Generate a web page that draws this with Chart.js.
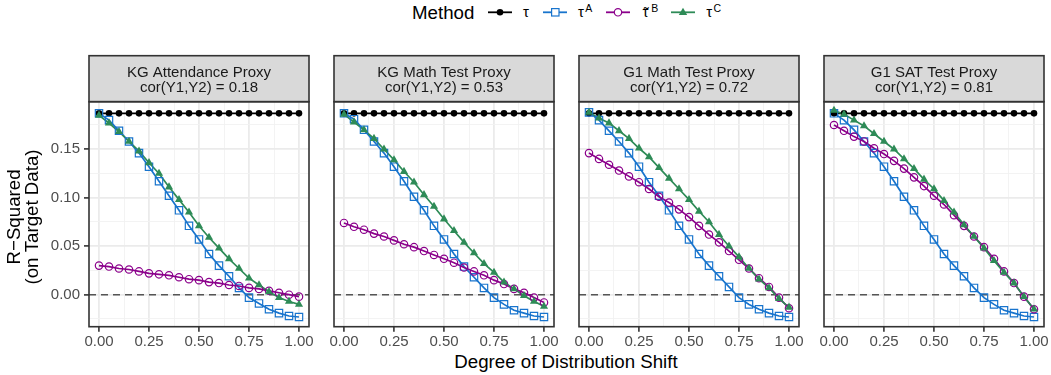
<!DOCTYPE html>
<html>
<head>
<meta charset="utf-8">
<script src="https://cdn.jsdelivr.net/npm/chart.js@4.4.1/dist/chart.umd.min.js"></script>
<style>
  body { margin: 0; background: #fff; width: 1051px; height: 375px; overflow: hidden; position: relative; }
  canvas { position: absolute; top: 0; }
  #overlay { position: absolute; left: 0; top: 0; pointer-events: none; font-family: "Liberation Sans", Arial, sans-serif; }
</style>
</head>
<body>

<svg id="overlay" width="1051" height="375">
  <!-- legend -->
  <text x="412" y="18.5" font-size="18.7" fill="#000">Method</text>
  <line x1="488" y1="12.3" x2="512" y2="12.3" stroke="#000" stroke-width="1.8"/>
  <circle cx="500" cy="12.3" r="3.3" fill="#000"/>
  <text x="523" y="16.8" font-size="15" fill="#000">τ</text>

  <line x1="543" y1="12.3" x2="567" y2="12.3" stroke="#1874CD" stroke-width="1.8"/>
  <rect x="551.6" y="8.6" width="7.4" height="7.4" fill="#fff" stroke="#1874CD" stroke-width="1.2"/>
  <text x="578" y="16.8" font-size="15" fill="#000">τ</text>
  <text x="585.3" y="11.8" font-size="10.5" fill="#000">A</text>

  <line x1="606" y1="12.3" x2="630" y2="12.3" stroke="#8B008B" stroke-width="1.8"/>
  <circle cx="618" cy="12.3" r="3.7" fill="#fff" stroke="#8B008B" stroke-width="1.2"/>
  <text x="642.5" y="16.8" font-size="15" fill="#000">τ</text>
  <text x="646.2" y="17.6" font-size="15" text-anchor="middle" fill="#000">˜</text>
  <text x="651.3" y="11.8" font-size="10.5" fill="#000">B</text>

  <line x1="671" y1="12.3" x2="695" y2="12.3" stroke="#2E8B57" stroke-width="1.8"/>
  <polygon points="683,7.8 687.2,15 678.8,15" fill="#2E8B57"/>
  <text x="706.3" y="16.8" font-size="15" fill="#000">τ</text>
  <text x="713.6" y="11.8" font-size="10.5" fill="#000">C</text>

  <!-- x axis title -->
  <text x="566" y="368.3" font-size="18.7" text-anchor="middle" fill="#000">Degree of Distribution Shift</text>
</svg>

<canvas id="p0"></canvas>
<canvas id="p1"></canvas>
<canvas id="p2"></canvas>
<canvas id="p3"></canvas>

<script>
// data
const shift = [0, 0.05, 0.10, 0.15, 0.20, 0.25, 0.30, 0.35, 0.40, 0.45, 0.50,
               0.55, 0.60, 0.65, 0.70, 0.75, 0.80, 0.85, 0.90, 0.95, 1.00];

const tau = [0.187, 0.187, 0.187, 0.187, 0.187, 0.187, 0.187, 0.187, 0.187, 0.187, 0.187,
             0.187, 0.187, 0.187, 0.187, 0.187, 0.187, 0.187, 0.187, 0.187, 0.187];

const panelTitles = [
    ['KG Attendance Proxy', 'cor(Y1,Y2) = 0.18'],
    ['KG Math Test Proxy', 'cor(Y1,Y2) = 0.53'],
    ['G1 Math Test Proxy', 'cor(Y1,Y2) = 0.72'],
    ['G1 SAT Test Proxy', 'cor(Y1,Y2) = 0.81']
];

// tau^A (blue squares)
const tauA_kgAtt = [0.187, 0.180, 0.169, 0.158, 0.146, 0.132, 0.117, 0.102, 0.087, 0.071, 0.057,
                    0.042, 0.030, 0.019, 0.007, -0.003, -0.009, -0.015, -0.019, -0.022, -0.023];
const tauA_kgMath = [0.187, 0.181, 0.170, 0.158, 0.146, 0.132, 0.117, 0.101, 0.087, 0.071, 0.057,
                     0.042, 0.029, 0.018, 0.007, -0.003, -0.010, -0.016, -0.019, -0.022, -0.023];
const tauA_g1Math = [0.188, 0.180, 0.169, 0.158, 0.146, 0.132, 0.116, 0.102, 0.087, 0.071, 0.057,
                     0.042, 0.030, 0.019, 0.008, -0.003, -0.010, -0.015, -0.019, -0.022, -0.023];
const tauA_g1Sat = [0.187, 0.180, 0.170, 0.158, 0.146, 0.132, 0.117, 0.101, 0.087, 0.071, 0.057,
                    0.042, 0.030, 0.019, 0.007, -0.003, -0.010, -0.016, -0.019, -0.022, -0.023];

// tilde tau^B (purple circles)
const tauB_kgAtt = [0.030, 0.029, 0.027, 0.026, 0.024, 0.022, 0.021, 0.020, 0.018, 0.016, 0.015,
                    0.013, 0.012, 0.010, 0.009, 0.007, 0.006, 0.004, 0.002, 0.000, -0.002];
const tauB_kgMath = [0.074, 0.070, 0.067, 0.063, 0.060, 0.056, 0.052, 0.049, 0.045, 0.041, 0.037,
                     0.033, 0.028, 0.024, 0.020, 0.015, 0.011, 0.006, 0.002, -0.003, -0.008];
const tauB_g1Math = [0.146, 0.140, 0.134, 0.128, 0.122, 0.116, 0.109, 0.101, 0.095, 0.088, 0.080,
                     0.071, 0.062, 0.054, 0.045, 0.036, 0.027, 0.017, 0.008, -0.003, -0.014];
const tauB_g1Sat = [0.175, 0.169, 0.163, 0.158, 0.151, 0.145, 0.138, 0.130, 0.121, 0.112, 0.102,
                    0.093, 0.082, 0.071, 0.060, 0.049, 0.037, 0.024, 0.012, -0.002, -0.015];

// tau^C (green triangles)
const tauC_kgAtt = [0.185, 0.177, 0.168, 0.158, 0.148, 0.136, 0.125, 0.111, 0.098, 0.085, 0.071,
                    0.059, 0.048, 0.037, 0.027, 0.017, 0.010, 0.003, -0.003, -0.007, -0.010];
const tauC_kgMath = [0.186, 0.178, 0.170, 0.161, 0.150, 0.139, 0.127, 0.116, 0.103, 0.091, 0.078,
                     0.066, 0.054, 0.043, 0.032, 0.023, 0.013, 0.006, -0.001, -0.007, -0.012];
const tauC_g1Math = [0.188, 0.182, 0.177, 0.169, 0.161, 0.151, 0.142, 0.131, 0.120, 0.109, 0.098,
                     0.086, 0.075, 0.062, 0.050, 0.039, 0.027, 0.016, 0.007, -0.004, -0.013];
const tauC_g1Sat = [0.190, 0.186, 0.180, 0.174, 0.166, 0.158, 0.150, 0.140, 0.130, 0.119, 0.109,
                    0.097, 0.085, 0.072, 0.060, 0.048, 0.035, 0.023, 0.012, -0.002, -0.015];

const xMajor = [0, 0.25, 0.5, 0.75, 1];
const xMinor = [0.125, 0.375, 0.625, 0.875];
const yMajor = [0, 0.05, 0.10, 0.15];
const yMinor = [-0.025, 0.025, 0.075, 0.125, 0.175];

const panels = [
    { A: tauA_kgAtt, B: tauB_kgAtt, C: tauC_kgAtt },
    { A: tauA_kgMath, B: tauB_kgMath, C: tauC_kgMath },
    { A: tauA_g1Math, B: tauB_g1Math, C: tauC_g1Math },
    { A: tauA_g1Sat, B: tauB_g1Sat, C: tauC_g1Sat }
];

const colors = { tau: '#000000', A: '#1874CD', B: '#8B008B', C: '#2E8B57' };
const FONT = '"Liberation Sans", Arial, sans-serif';

// layout in page pixels
const panelLeft = [89, 334, 579, 824];
const panelWidth = 220;
const stripTop = 55.7;

const isIn = (arr, v) => arr.some(a => Math.abs(a - v) < 1e-9);
const pts = arr => shift.map((x, i) => ({ x: x, y: arr[i] }));

// strip, panel border and (first panel only) y title
const panelDecor = {
    id: 'panelDecor',
    afterDraw(chart, args, opts) {
        const { ctx, chartArea: a } = chart;
        ctx.save();
        ctx.fillStyle = '#D9D9D9';
        ctx.fillRect(a.left, stripTop, a.width, a.top - stripTop);
        ctx.strokeStyle = '#333333';
        ctx.lineWidth = 1.6;
        ctx.strokeRect(a.left, stripTop, a.width, a.top - stripTop);
        ctx.strokeRect(a.left, a.top, a.width, a.height);

        ctx.fillStyle = '#1A1A1A';
        ctx.font = '15px ' + FONT;
        ctx.textAlign = 'center';
        ctx.textBaseline = 'alphabetic';
        const cx = a.left + a.width / 2;
        ctx.fillText(opts.title[0], cx, 77.4);
        ctx.fillText(opts.title[1], cx, 91.6);

        if (opts.yTitle) {
            ctx.fillStyle = '#000';
            ctx.font = '18.7px ' + FONT;
            ctx.translate(0, 217);
            ctx.rotate(-Math.PI / 2);
            ctx.textBaseline = 'middle';
            ctx.fillText('R\u2212Squared', 0, 15);
            ctx.fillText('(on Target Data)', 0, 33);
        }
        ctx.restore();
    }
};

const makeChart = (idx) => {
    const first = idx === 0;
    const padL = first ? 0 : 20;
    const padR = 20;
    const canvas = document.getElementById('p' + idx);
    const yAxisW = first ? 89 : 0;
    canvas.width = yAxisW + padL + panelWidth + padR;
    canvas.height = 375;
    canvas.style.left = (panelLeft[idx] - yAxisW - padL) + 'px';

    const d = panels[idx];
    const lineDs = (data, color, order) => ({
        data: pts(data), borderColor: color, borderWidth: 1.7,
        pointRadius: 0, showLine: true, order: order
    });
    const pointDs = (data, color, style, r, filled, order) => ({
        data: pts(data), showLine: false, pointStyle: style, pointRadius: r,
        pointBorderColor: color, pointBackgroundColor: filled ? color : 'rgba(0,0,0,0)',
        pointBorderWidth: filled ? 0 : 1.2, order: order
    });

    return new Chart(canvas, {
        type: 'scatter',
        data: {
            datasets: [
                { data: [{ x: -0.05, y: 0 }, { x: 1.05, y: 0 }], showLine: true, pointRadius: 0,
                  borderColor: '#555555', borderWidth: 1.5, borderDash: [7, 5], order: 100 },
                lineDs(tau, colors.tau, 53),
                lineDs(d.A, colors.A, 52),
                lineDs(d.B, colors.B, 51),
                lineDs(d.C, colors.C, 50),
                pointDs(tau, colors.tau, 'circle', 3.3, true, 3),
                pointDs(d.A, colors.A, 'rect', 5.2, false, 2),
                pointDs(d.B, colors.B, 'circle', 3.7, false, 1),
                pointDs(d.C, colors.C, 'triangle', 4.7, true, 0)
            ]
        },
        options: {
            responsive: false,
            animation: false,
            layout: { padding: { left: padL, right: padR, top: 101.7, bottom: 18.3 } },
            plugins: {
                legend: { display: false },
                tooltip: { enabled: false },
                panelDecor: { title: panelTitles[idx], yTitle: first }
            },
            scales: {
                x: {
                    type: 'linear', min: -0.05, max: 1.05,
                    afterBuildTicks: s => { s.ticks = xMajor.concat(xMinor).sort((a, b) => a - b).map(v => ({ value: v })); },
                    afterFit: s => { s.height = 30; },
                    border: { display: false },
                    grid: {
                        color: c => isIn(xMajor, c.tick.value) ? '#EBEBEB' : '#F2F2F2',
                        lineWidth: c => isIn(xMajor, c.tick.value) ? 1.8 : 0.9,
                        tickColor: c => isIn(xMajor, c.tick.value) ? '#333333' : 'rgba(0,0,0,0)',
                        tickLength: 5, tickWidth: 1.6
                    },
                    ticks: {
                        autoSkip: false, maxRotation: 0, padding: 1,
                        color: '#4D4D4D', font: { family: FONT, size: 15 },
                        callback: v => isIn(xMajor, v) ? v.toFixed(2) : ''
                    }
                },
                y: {
                    type: 'linear', min: -0.033, max: 0.199,
                    afterBuildTicks: s => { s.ticks = yMinor.concat(yMajor).sort((a, b) => a - b).map(v => ({ value: v })); },
                    afterFit: s => { s.width = yAxisW; },
                    border: { display: false },
                    grid: {
                        color: c => isIn(yMajor, c.tick.value) ? '#EBEBEB' : '#F2F2F2',
                        lineWidth: c => isIn(yMajor, c.tick.value) ? 1.8 : 0.9,
                        tickColor: c => isIn(yMajor, c.tick.value) ? '#333333' : 'rgba(0,0,0,0)',
                        drawTicks: first, tickLength: 5, tickWidth: 1.6
                    },
                    ticks: {
                        display: first, autoSkip: false, padding: 4,
                        color: '#4D4D4D', font: { family: FONT, size: 15 },
                        callback: v => isIn(yMajor, v) ? v.toFixed(2) : ''
                    }
                }
            }
        },
        plugins: [panelDecor]
    });
};

[0, 1, 2, 3].forEach(makeChart);
</script>
</body>
</html>
